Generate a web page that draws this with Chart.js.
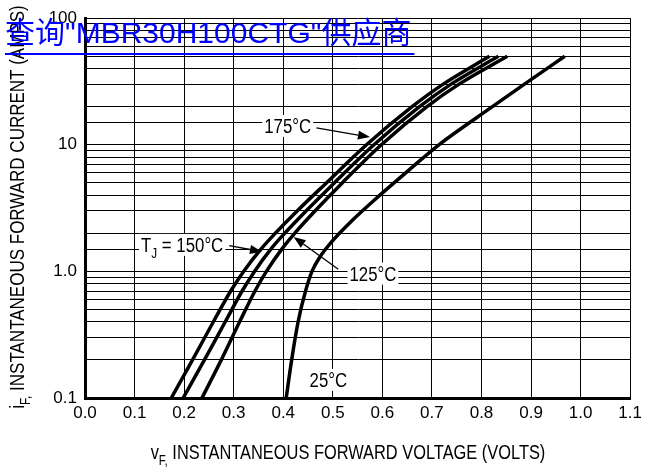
<!DOCTYPE html>
<html>
<head>
<meta charset="utf-8">
<script src="https://cdn.jsdelivr.net/npm/chart.js@4.4.0/dist/chart.umd.min.js"></script>
<style>
  html, body { margin: 0; padding: 0; background: #fff; }
  #wrap { width: 647px; height: 471px; }
</style>
</head>
<body>
<div id="wrap"><canvas id="vf-chart"></canvas></div>
<script>
// forward current steps (A) and the forward voltage (V) read for each curve
const currents = [0.1, 0.2, 0.4, 0.7, 1.0, 1.5, 2.0, 3, 5, 10, 20, 30, 50];
const vf175 = [0.174, 0.217, 0.259, 0.294, 0.320, 0.355, 0.384, 0.428, 0.487, 0.568, 0.660, 0.722, 0.816];
const vf150 = [0.198, 0.241, 0.283, 0.317, 0.342, 0.375, 0.403, 0.446, 0.503, 0.583, 0.675, 0.738, 0.834];
const vf125 = [0.236, 0.275, 0.312, 0.343, 0.366, 0.397, 0.423, 0.464, 0.519, 0.598, 0.690, 0.754, 0.852];

const currents25 = [0.1, 0.2, 0.4, 0.7, 1.0, 1.3, 1.7, 2.5, 4, 6, 10, 20, 30, 50];
const vf25 = [0.406, 0.417, 0.430, 0.445, 0.458, 0.474, 0.497, 0.538, 0.595, 0.647, 0.714, 0.822, 0.886, 0.968];

const xTicks = [0, 0.1, 0.2, 0.3, 0.4, 0.5, 0.6, 0.7, 0.8, 0.9, 1.0, 1.1];
const yLabels = { 0.1: '0.1', 1: '1.0', 10: '10', 100: '100' };

const FONT = "'Liberation Sans', Arial, sans-serif";

function curve(label, xs, ys) {
  return {
    label: label,
    data: xs.map((v, i) => ({ x: v, y: ys[i] })),
    borderColor: '#000',
    borderWidth: 3.5,
    pointRadius: 0,
    fill: false,
    cubicInterpolationMode: 'monotone'
  };
}

// condensed text: [string, isSubscript] parts, squeezed horizontally
function partsWidth(ctx, parts, size, squeeze) {
  let w = 0;
  parts.forEach(p => {
    ctx.font = (p[1] ? Math.round(size * 0.72) : size) + 'px ' + FONT;
    w += ctx.measureText(p[0]).width;
  });
  return w * squeeze;
}

function drawParts(ctx, parts, x, y, size, squeeze) {
  const total = partsWidth(ctx, parts, size, squeeze);
  ctx.save();
  ctx.translate(x - total / 2, y);
  ctx.scale(squeeze, 1);
  ctx.textAlign = 'left';
  ctx.textBaseline = 'alphabetic';
  let cx = 0;
  parts.forEach(p => {
    ctx.font = (p[1] ? Math.round(size * 0.72) : size) + 'px ' + FONT;
    ctx.fillText(p[0], cx, p[1] ? size * 0.3 : 0);
    cx += ctx.measureText(p[0]).width;
  });
  ctx.restore();
  return total;
}

function arrow(ctx, x1, y1, x2, y2) {
  const a = Math.atan2(y2 - y1, x2 - x1);
  const len = 12, w = 4.5;
  ctx.strokeStyle = '#000';
  ctx.lineWidth = 1.3;
  ctx.beginPath();
  ctx.moveTo(x1, y1);
  ctx.lineTo(x2 - len * Math.cos(a), y2 - len * Math.sin(a));
  ctx.stroke();
  ctx.beginPath();
  ctx.moveTo(x2, y2);
  ctx.lineTo(x2 - len * Math.cos(a) + w * Math.sin(a), y2 - len * Math.sin(a) - w * Math.cos(a));
  ctx.lineTo(x2 - len * Math.cos(a) - w * Math.sin(a), y2 - len * Math.sin(a) + w * Math.cos(a));
  ctx.closePath();
  ctx.fillStyle = '#000';
  ctx.fill();
}

const notes = [
  { parts: [['175°C', 0]], at: [0.409, 14.1], tail: [0.467, 13.6], tip: [0.575, 11.5] },
  { parts: [['T', 0], ['J', 1], [' = 150°C', 0]], at: [0.196, 1.62], tail: [0.291, 1.60], tip: [0.357, 1.43] },
  { parts: [['125°C', 0]], at: [0.581, 0.96], tail: [0.511, 1.04], tip: [0.421, 1.87] },
  { parts: [['25°C', 0]], at: [0.491, 0.139] }
];

const labelsPlugin = {
  id: 'labels',
  afterDatasetsDraw(chart) {
    const ctx = chart.ctx;
    const xs = chart.scales.x, ys = chart.scales.y;
    ctx.save();
    notes.forEach(n => {
      const cx = xs.getPixelForValue(n.at[0]);
      const cy = ys.getPixelForValue(n.at[1]);
      const w = partsWidth(ctx, n.parts, 20, 0.84);
      ctx.fillStyle = '#fff';
      ctx.fillRect(cx - w / 2 - 2, cy - 11, w + 4, 22);
      ctx.fillStyle = '#000';
      drawParts(ctx, n.parts, cx, cy + 7, 20, 0.84);
      if (n.tip) {
        arrow(ctx, xs.getPixelForValue(n.tail[0]), ys.getPixelForValue(n.tail[1]),
          xs.getPixelForValue(n.tip[0]), ys.getPixelForValue(n.tip[1]));
      }
    });
    ctx.restore();
  },
  afterDraw(chart) {
    const ctx = chart.ctx;
    ctx.save();
    ctx.fillStyle = '#000';
    drawParts(ctx, [['v', 0], ['F,', 1], [' INSTANTANEOUS FORWARD VOLTAGE (VOLTS)', 0]], 348, 459, 20, 0.82);
    ctx.translate(24, 207);
    ctx.rotate(-Math.PI / 2);
    drawParts(ctx, [['i', 0], ['F,', 1], [' INSTANTANEOUS FORWARD CURRENT (AMPS)', 0]], 0, 0, 20, 0.85);
    ctx.restore();

    // blue link text over the top-left corner
    ctx.save();
    ctx.font = "30px 'Liberation Sans', 'Noto Sans CJK SC', sans-serif";
    ctx.fillStyle = '#0000ff';
    ctx.textAlign = 'left';
    ctx.textBaseline = 'alphabetic';
    const wm = '查询"MBR30H100CTG"供应商';
    ctx.fillText(wm, 5, 43);
    const ww = ctx.measureText(wm).width;
    ctx.fillRect(5, 53, ww + 3, 2);
    ctx.restore();
  }
};

new Chart(document.getElementById('vf-chart'), {
  type: 'line',
  data: {
    datasets: [
      curve('175°C', vf175, currents),
      curve('150°C', vf150, currents),
      curve('125°C', vf125, currents),
      curve('25°C', vf25, currents25)
    ]
  },
  options: {
    responsive: true,
    maintainAspectRatio: false,
    animation: false,
    layout: {
      padding: { left: 0, right: 13, top: 14, bottom: 0 }
    },
    plugins: {
      legend: { display: false },
      tooltip: { enabled: false }
    },
    scales: {
      x: {
        type: 'linear',
        min: 0,
        max: 1.1,
        afterBuildTicks: function(scale) {
          scale.ticks = xTicks.map(v => ({ value: v }));
        },
        afterFit: function(scale) { scale.height = 73; },
        grid: { color: '#000', lineWidth: 1, drawTicks: false },
        border: { color: '#000', width: 3 },
        ticks: {
          color: '#000',
          padding: 5,
          autoSkip: false,
          maxRotation: 0,
          font: { family: FONT, size: 17 },
          callback: function(value) { return value.toFixed(1); }
        }
      },
      y: {
        type: 'logarithmic',
        min: 0.1,
        max: 100,
        afterFit: function(scale) { scale.width = 85; },
        grid: { color: '#000', lineWidth: 1, drawTicks: false },
        border: { color: '#000', width: 3 },
        ticks: {
          color: '#000',
          padding: 8,
          autoSkip: false,
          font: { family: FONT, size: 17 },
          callback: function(value) {
            const key = Math.round(value * 10) / 10;
            return yLabels[key] || '';
          }
        }
      }
    }
  },
  plugins: [labelsPlugin]
});
</script>
</body>
</html>
